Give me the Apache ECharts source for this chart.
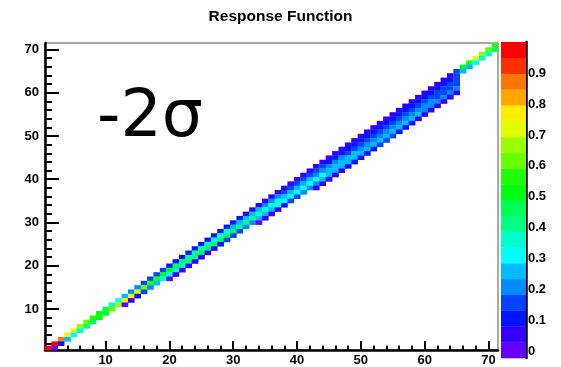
<!DOCTYPE html>
<html>
<head>
<meta charset="utf-8">
<script src="https://cdn.jsdelivr.net/npm/echarts@6/dist/echarts.min.js"></script>
<style>
html, body { margin: 0; padding: 0; background: #fff; }
#chart { width: 561px; height: 367px; }
</style>
</head>
<body>
<div id="chart"></div>
<script>
// each row: [true bin, content of reco bin = true bin, true bin - 1, true bin - 2, ...]
var lowColumns = [
  [1, 0.98],
  [2, 0.97, 0.02],
  [3, 0.86, 0.12],
  [4, 0.76, 0.25],
  [5, 0.70, 0.31],
  [6, 0.66, 0.36],
  [7, 0.60, 0.40],
  [8, 0.55, 0.47],
  [9, 0.52, 0.50],
  [10, 0.44, 0.54],
  [11, 0.38, 0.62],
  [12, 0.30, 0.68]
];
var midColumns = [
  [13, 0.28, 0.76, 0.02],
  [14, 0.20, 0.75, 0.06],
  [15, 0.19, 0.70, 0.12],
  [16, 0.17, 0.64, 0.18],
  [17, 0.16, 0.58, 0.23],
  [18, 0.15, 0.55, 0.27],
  [19, 0.14, 0.52, 0.30],
  [20, 0.13, 0.50, 0.33, 0.03],
  [21, 0.12, 0.48, 0.35, 0.04],
  [22, 0.12, 0.45, 0.37, 0.05],
  [23, 0.12, 0.42, 0.39, 0.06],
  [24, 0.12, 0.40, 0.41, 0.06],
  [25, 0.12, 0.36, 0.44, 0.07],
  [26, 0.12, 0.34, 0.45, 0.08],
  [27, 0.13, 0.32, 0.46, 0.08],
  [28, 0.11, 0.30, 0.46, 0.12],
  [29, 0.10, 0.29, 0.45, 0.14],
  [30, 0.09, 0.28, 0.44, 0.16],
  [31, 0.09, 0.27, 0.42, 0.18],
  [32, 0.08, 0.26, 0.40, 0.20],
  [33, 0.08, 0.25, 0.39, 0.22],
  [34, 0.07, 0.24, 0.38, 0.24, 0.03],
  [35, 0.07, 0.23, 0.36, 0.26, 0.04],
  [36, 0.06, 0.22, 0.35, 0.28, 0.05],
  [37, 0.06, 0.20, 0.33, 0.30, 0.06]
];
var wideColumns = [
  [38, 0.06, 0.18, 0.28, 0.33, 0.13],
  [39, 0.06, 0.17, 0.27, 0.33, 0.15],
  [40, 0.05, 0.16, 0.26, 0.33, 0.17],
  [41, 0.05, 0.15, 0.25, 0.32, 0.19],
  [42, 0.05, 0.15, 0.24, 0.31, 0.21],
  [43, 0.05, 0.14, 0.23, 0.30, 0.23, 0.04],
  [44, 0.05, 0.14, 0.22, 0.29, 0.24, 0.05],
  [45, 0.05, 0.13, 0.21, 0.28, 0.25, 0.06],
  [46, 0.05, 0.13, 0.20, 0.27, 0.26, 0.07],
  [47, 0.05, 0.12, 0.19, 0.26, 0.27, 0.08],
  [48, 0.05, 0.12, 0.18, 0.25, 0.28, 0.09],
  [49, 0.05, 0.12, 0.18, 0.24, 0.28, 0.10],
  [50, 0.05, 0.12, 0.17, 0.23, 0.28, 0.11],
  [51, 0.05, 0.12, 0.17, 0.22, 0.27, 0.12],
  [52, 0.05, 0.12, 0.16, 0.22, 0.27, 0.13],
  [53, 0.05, 0.12, 0.16, 0.21, 0.26, 0.14],
  [54, 0.05, 0.12, 0.16, 0.21, 0.26, 0.15],
  [55, 0.05, 0.11, 0.16, 0.20, 0.25, 0.16],
  [56, 0.05, 0.11, 0.16, 0.20, 0.25, 0.12],
  [57, 0.05, 0.11, 0.15, 0.20, 0.25, 0.10],
  [58, 0.05, 0.11, 0.15, 0.20, 0.24, 0.09],
  [59, 0.05, 0.12, 0.15, 0.19, 0.24, 0.08],
  [60, 0.05, 0.12, 0.15, 0.19, 0.23, 0.08],
  [61, 0.05, 0.12, 0.15, 0.19, 0.23, 0.07],
  [62, 0.05, 0.12, 0.15, 0.18, 0.22, 0.07],
  [63, 0.05, 0.12, 0.15, 0.18, 0.22, 0.06],
  [64, 0.05, 0.12, 0.15, 0.18, 0.21, 0.06],
  [65, 0.14, 0.16, 0.17, 0.18, 0.19, 0.05]
];
var topColumns = [
  [66, 0.52, 0.26],
  [67, 0.55, 0.27],
  [68, 0.74, 0.30],
  [69, 0.66, 0.36],
  [70, 0.63, 0.38],
  [71, 0.55, 0.45]
];

var xMajorTicks = [10, 20, 30, 40, 50, 60, 70];
var xMinorTicks = [2, 4, 6, 8, 12, 14, 16, 18, 22, 24, 26, 28, 32, 34, 36, 38, 42, 44, 46, 48, 52, 54, 56, 58, 62, 64, 66, 68];
var yMajorTicks = [10, 20, 30, 40, 50, 60, 70];
var yMinorTicks = [2, 4, 6, 8, 12, 14, 16, 18, 22, 24, 26, 28, 32, 34, 36, 38, 42, 44, 46, 48, 52, 54, 56, 58, 62, 64, 66, 68];
var zTicks = [0, 0.1, 0.2, 0.3, 0.4, 0.5, 0.6, 0.7, 0.8, 0.9];

var zMin = -0.02, zMax = 1.0;
var paletteColors = [
  '#6300ff', '#3300ff', '#0014ff', '#0044ff', '#008bff',
  '#00bbff', '#00fffc', '#00ffcc', '#00ff85', '#00ff55',
  '#00ff0e', '#22ff00', '#69ff00', '#99ff00', '#e0ff00',
  '#ffee00', '#ffa700', '#ff7700', '#ff3000', '#ff0000'
];

var cells = [];
[lowColumns, midColumns, wideColumns, topColumns].forEach(function (group) {
  group.forEach(function (col) {
    for (var i = 1; i < col.length; i++) {
      cells.push([col[0], col[0] - (i - 1), col[i]]);
    }
  });
});

var step = (zMax - zMin) / paletteColors.length;
var pieces = paletteColors.map(function (c, k) {
  var p = { gte: zMin + k * step, color: c };
  if (k < paletteColors.length - 1) p.lt = zMin + (k + 1) * step;
  return p;
});
var barData = paletteColors.map(function (c, k) {
  return [k, zMin + k * step, zMin + (k + 1) * step];
});

var labelFont = { color: '#000', fontFamily: 'Liberation Sans', fontWeight: 'bold', fontSize: 13 };
var axisBlack = { color: '#000', width: 2.5 };

var chart = echarts.init(document.getElementById('chart'));
chart.setOption({
  animation: false,
  title: {
    text: 'Response Function',
    left: 'center',
    top: 4,
    textStyle: { fontFamily: 'Liberation Sans', fontWeight: 'bold', fontSize: 15.5, color: '#000' }
  },
  grid: [
    { left: 45, top: 43, width: 453, height: 307, show: true, borderColor: '#555', borderWidth: 1 },
    { left: 501, top: 42, width: 25, height: 316 }
  ],
  xAxis: [
    {
      gridIndex: 0, type: 'value', min: 0.5, max: 71.5, position: 'bottom',
      axisLine: { onZero: false, lineStyle: axisBlack },
      axisTick: { inside: true, length: 9, customValues: xMajorTicks, lineStyle: { color: '#000', width: 2 } },
      axisLabel: Object.assign({ customValues: xMajorTicks, margin: 4 }, labelFont),
      splitLine: { show: false }
    },
    {
      gridIndex: 0, type: 'value', min: 0.5, max: 71.5, position: 'bottom',
      axisLine: { show: false, onZero: false },
      axisTick: { inside: true, length: 4.5, customValues: xMinorTicks, lineStyle: { color: '#000', width: 2 } },
      axisLabel: { show: false },
      splitLine: { show: false }
    },
    { gridIndex: 1, type: 'value', min: 0, max: 1, show: false }
  ],
  yAxis: [
    {
      gridIndex: 0, type: 'value', min: 0.5, max: 71.5, position: 'left',
      axisLine: { onZero: false, lineStyle: axisBlack },
      axisTick: { inside: true, length: 14, customValues: yMajorTicks, lineStyle: { color: '#000', width: 2 } },
      axisLabel: Object.assign({ customValues: yMajorTicks, margin: 6 }, labelFont),
      splitLine: { show: false }
    },
    {
      gridIndex: 0, type: 'value', min: 0.5, max: 71.5, position: 'left',
      axisLine: { show: false, onZero: false },
      axisTick: { inside: true, length: 7, customValues: yMinorTicks, lineStyle: { color: '#000', width: 2 } },
      axisLabel: { show: false },
      splitLine: { show: false }
    },
    {
      gridIndex: 1, type: 'value', min: zMin, max: zMax, position: 'right',
      axisLine: { onZero: false, lineStyle: axisBlack },
      axisTick: { inside: true, length: 15, customValues: zTicks, lineStyle: { color: '#000', width: 2 } },
      axisLabel: Object.assign({ customValues: zTicks, margin: 2 }, labelFont),
      splitLine: { show: false }
    }
  ],
  visualMap: {
    type: 'piecewise', show: false, seriesIndex: 0, dimension: 2, pieces: pieces
  },
  graphic: [{
    type: 'text', left: 97, top: 87, z: 100,
    style: { text: '-2σ', fontFamily: 'DejaVu Sans', fontSize: 65, fill: '#000' }
  }],
  series: [
    {
      type: 'custom', xAxisIndex: 0, yAxisIndex: 0, data: cells,
      renderItem: function (params, api) {
        var p = api.coord([api.value(0) - 0.5, api.value(1) + 0.5]);
        var s = api.size([1, 1]);
        return { type: 'rect', shape: { x: p[0], y: p[1], width: s[0] + 0.3, height: s[1] + 0.3 }, style: { fill: api.visual('color') } };
      }
    },
    {
      type: 'custom', xAxisIndex: 2, yAxisIndex: 2, data: barData, z: 1,
      renderItem: function (params, api) {
        var p0 = api.coord([0, api.value(2)]);
        var p1 = api.coord([1, api.value(1)]);
        return { type: 'rect', shape: { x: p0[0], y: p0[1], width: p1[0] - p0[0], height: p1[1] - p0[1] + 0.3 }, style: { fill: paletteColors[api.value(0)] } };
      }
    }
  ]
});
</script>
</body>
</html>
